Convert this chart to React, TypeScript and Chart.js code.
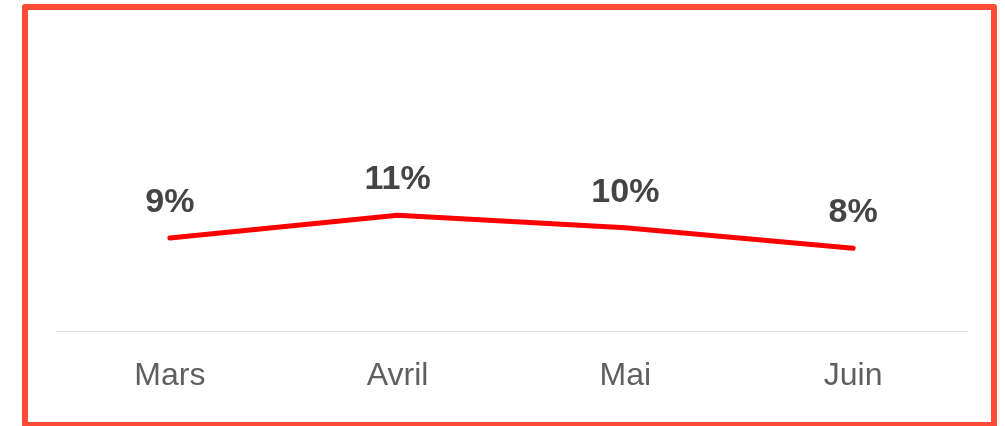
import React, { useEffect, useRef } from "react";
import { Chart, registerables } from "chart.js";

Chart.register(...registerables);

const categories = ["Mars", "Avril", "Mai", "Juin"];
const rates = [9.0, 11.2, 10.0, 8.0];
const yMin = 0;
const yMax = 30;

const FONT = "'Liberation Sans', Arial, Helvetica, sans-serif";

const valueLabels = {
  id: "valueLabels",
  afterDatasetsDraw(chart: any) {
    const ctx = chart.ctx;
    const meta = chart.getDatasetMeta(0);
    ctx.save();
    ctx.font = `bold 34px ${FONT}`;
    ctx.fillStyle = "#444444";
    ctx.textAlign = "center";
    ctx.textBaseline = "alphabetic";
    meta.data.forEach((pt: any, i: number) => {
      ctx.fillText(`${Math.round(rates[i])}%`, pt.x, pt.y - 26);
    });
    ctx.restore();
  },
};

export default function App() {
  const ref = useRef<HTMLCanvasElement | null>(null);
  useEffect(() => {
    if (!ref.current) return;
    const chart = new Chart(ref.current, {
      type: "line",
      data: {
        labels: categories,
        datasets: [
          {
            data: rates,
            borderColor: "#ff0000",
            borderWidth: 5,
            borderCapStyle: "round",
            borderJoinStyle: "round",
            pointRadius: 0,
            pointHoverRadius: 0,
            tension: 0,
            fill: false,
          },
        ],
      },
      options: {
        responsive: false,
        animation: false,
        layout: { padding: { left: 28, right: 24, top: 11, bottom: 0 } },
        plugins: {
          legend: { display: false },
          tooltip: { enabled: false },
          title: { display: false },
        },
        scales: {
          x: {
            offset: true,
            grid: { display: false },
            border: { display: true, color: "#dddddd", width: 1 },
            ticks: {
              color: "#5f5f5f",
              font: { family: FONT, size: 32 },
              padding: 18,
              maxRotation: 0,
            },
            afterFit(scale: any) {
              scale.height = 91;
            },
          },
          y: {
            display: false,
            min: yMin,
            max: yMax,
          },
        },
      },
      plugins: [valueLabels],
    });
    return () => chart.destroy();
  }, []);

  return (
    <div
      style={{
        position: "absolute",
        left: 22,
        top: 4,
        width: 975,
        height: 424,
        boxSizing: "border-box",
        border: "6px solid #ff4a35",
        borderRadius: 3,
        background: "#ffffff",
      }}
    >
      <canvas ref={ref} width={963} height={412} style={{ display: "block" }} />
    </div>
  );
}
